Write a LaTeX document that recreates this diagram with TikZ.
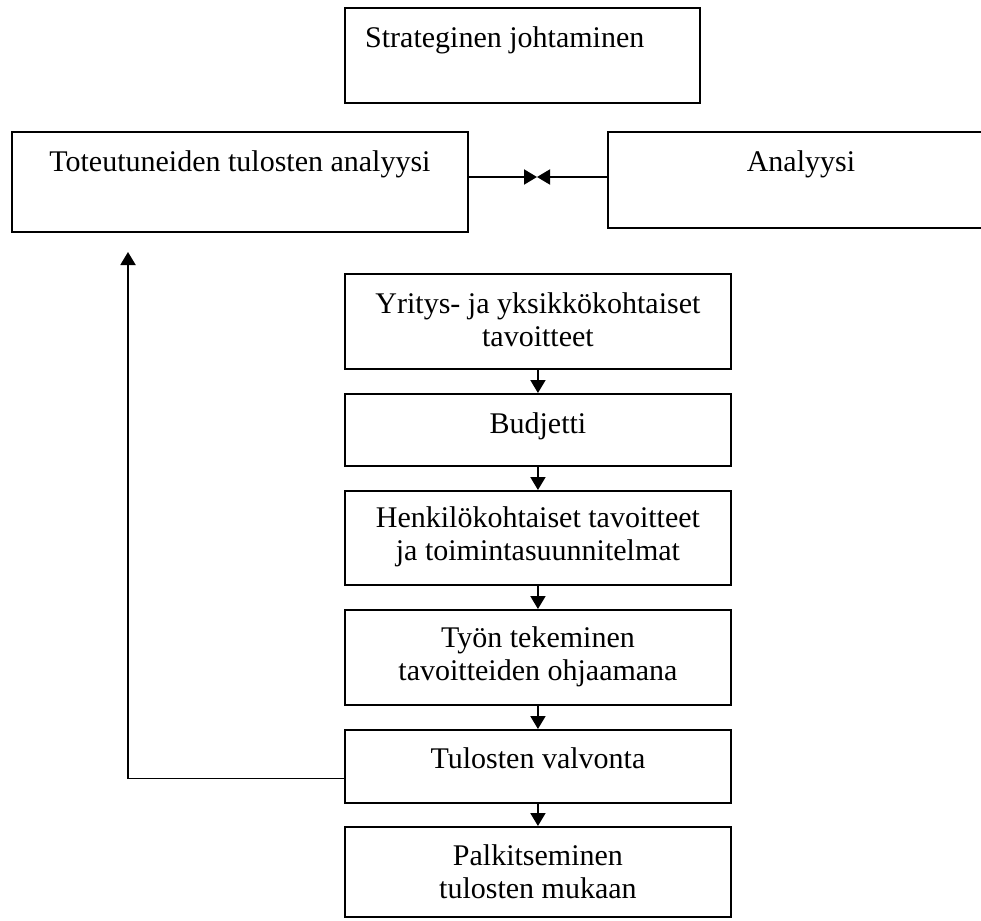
\documentclass[tikz,border=0pt]{standalone}
\usepackage{fontspec}
\setmainfont{Liberation Serif}
\usetikzlibrary{arrows.meta}

\tikzset{
  box/.style={draw, line width=1.9pt, inner sep=0pt, anchor=north west},
  txt/.style={font=\fontsize{30}{33}\selectfont, align=center, inner sep=0pt, anchor=north},
  arr/.style={line width=1.9pt, -{Triangle[length=13pt,width=15pt]}},
}

\begin{document}
\begin{tikzpicture}[x=1pt, y=-1pt]
  \useasboundingbox (0,0) rectangle (981,920);
  \clip (0,0) rectangle (981,920);

  % top row
  \node[box, minimum width=355, minimum height=95] (strat) at (344,7) {};
  \node[txt, anchor=north west] (t-strat) at ([xshift=21pt, yshift=-17pt]strat.north west) {\strut Strateginen johtaminen};

  \node[box, minimum width=456, minimum height=100] (real) at (11,131) {};
  \node[txt] (t-real) at ([yshift=-17pt]real.north) {\strut Toteutuneiden tulosten analyysi};

  \node[box, minimum width=386, minimum height=96] (anal) at (607,131) {};
  \node[txt] (t-anal) at ([yshift=-17pt]anal.north) {\strut Analyysi};

  \coordinate (mid) at (537,177);
  \draw[arr] (real.east |- mid) -- (mid);
  \draw[arr] (anal.west |- mid) -- (mid);

  % central chain
  \node[box, minimum width=386, minimum height=95] (goals) at (344,273) {};
  \node[txt] (t-goals) at ([yshift=-17pt]goals.north) {\strut Yritys- ja yksikkökohtaiset\\tavoitteet};

  \node[box, minimum width=386, minimum height=72] (budget) at (344,393) {};
  \node[txt] (t-budget) at ([yshift=-17pt]budget.north) {\strut Budjetti};

  \node[box, minimum width=386, minimum height=94] (pers) at (344,490) {};
  \node[txt] (t-pers) at ([yshift=-14pt]pers.north) {\strut Henkilökohtaiset tavoitteet\\ja toimintasuunnitelmat};

  \node[box, minimum width=386, minimum height=95] (work) at (344,609) {};
  \node[txt] (t-work) at ([yshift=-15pt]work.north) {\strut Työn tekeminen\\tavoitteiden ohjaamana};

  \node[box, minimum width=386, minimum height=73] (monitor) at (344,729) {};
  \node[txt] (t-monitor) at ([yshift=-16pt]monitor.north) {\strut Tulosten valvonta};

  \node[box, minimum width=386, minimum height=90] (reward) at (344,826) {};
  \node[txt] (t-reward) at ([yshift=-16pt]reward.north) {\strut Palkitseminen\\tulosten mukaan};

  \draw[arr] (goals.south) -- (budget.north);
  \draw[arr] (budget.south) -- (pers.north);
  \draw[arr] (pers.south) -- (work.north);
  \draw[arr] (work.south) -- (monitor.north);
  \draw[arr] (monitor.south) -- (reward.north);

  % feedback loop
  \coordinate (fbtip) at (128,252);
  \draw[arr] ([yshift=-12pt]monitor.west) -| (fbtip);
\end{tikzpicture}
\end{document}
